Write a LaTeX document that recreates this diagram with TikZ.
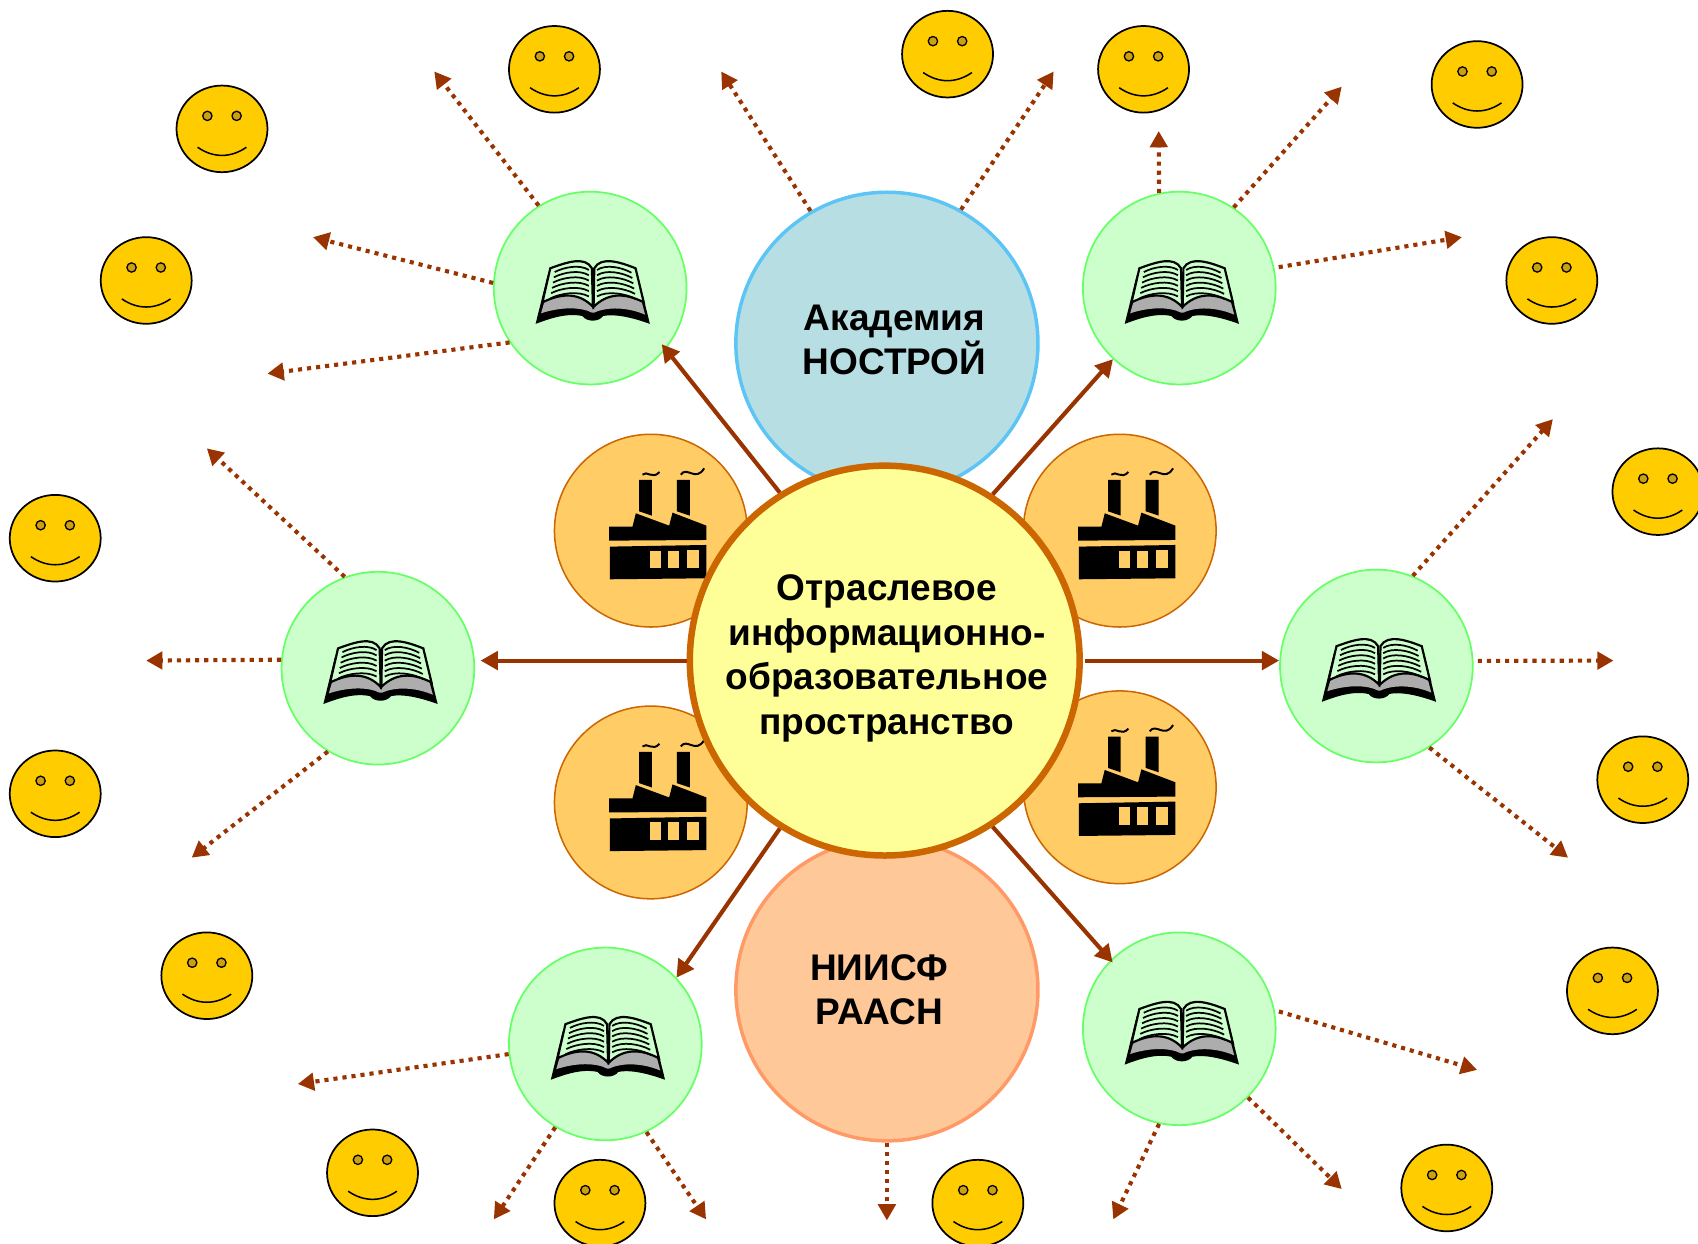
\documentclass[tikz,border=0pt]{standalone}
\usepackage{fontspec}
\setmainfont{Liberation Sans}
\usetikzlibrary{arrows.meta}
\definecolor{brn}{HTML}{993300}
\definecolor{grnfill}{HTML}{CCFFCC}
\definecolor{grnline}{HTML}{66FF66}
\definecolor{orfill}{HTML}{FFCC66}
\definecolor{orline}{HTML}{CC6600}
\definecolor{smfill}{HTML}{FFCC00}
\definecolor{smeye}{HTML}{CCA010}
\definecolor{topfill}{RGB}{183,222,227}
\definecolor{topline}{RGB}{92,197,245}
\definecolor{botfill}{RGB}{255,200,153}
\definecolor{botline}{RGB}{255,153,102}
\definecolor{cenfill}{RGB}{255,255,153}
\tikzset{
  circ/.style={circle,draw,inner sep=0pt,minimum size=#1},
  greenc/.style={circ=89pt,fill=grnfill,draw=grnline,line width=.8pt},
  factc/.style={circ=89pt,fill=orfill,draw=orline,line width=.7pt},
  solidarrow/.style={draw=brn,line width=1.9pt,-{Triangle[length=8pt,width=8.5pt]}},
  dotarrow/.style={draw=brn,line width=1.9pt,dash pattern=on 1.9pt off 2.3pt,-{Triangle[length=7.5pt,width=8pt]}},
  lbl/.style={font=\bfseries\fontsize{17.1pt}{20.6pt}\selectfont,align=center,inner sep=0pt,text=black},
  smiley/.pic={
    \draw[fill=smfill,draw=black,line width=.8pt] (0,0) ellipse [x radius=42,y radius=40];
    \draw[fill=smeye,draw=black,line width=.6pt] (-13.5,-12) circle [radius=4.3];
    \draw[fill=smeye,draw=black,line width=.6pt] (13.5,-12) circle [radius=4.3];
    \draw[black,line width=.7pt] (-22.5,17) .. controls (-8,27) and (8,27) .. (22.5,17);
  },
  book/.pic={
    \begin{scope}[scale=.315,shift={(-330,-320)}]
    \fill[black] (170,425) -- (205,283) -- (470,283) -- (505,425)
      .. controls (450,405) and (400,395) .. (368,402)
      .. controls (355,420) and (320,420) .. (307,402)
      .. controls (260,392) and (210,410) .. (170,425) -- cycle;
    \fill[black!32] (186,394) .. controls (240,376) and (300,374) .. (335,392) -- (342,392)
      .. controls (380,374) and (440,376) .. (491,398) -- (465,300) -- (213,300) -- cycle;
    \draw[black,line width=1pt,fill=grnfill] (213,262) .. controls (260,245) and (315,225) .. (335,262)
      -- (338,375) .. controls (300,335) and (250,332) .. (190,362) -- cycle;
    \draw[black,line width=1pt,fill=grnfill] (342,262) .. controls (362,225) and (420,245) .. (463,262)
      -- (487,362) .. controls (430,332) and (380,335) .. (340,375) -- cycle;
    \foreach \i in {0,...,5}{
      \draw[black,line width=.8pt] ({226-2.6*\i},{273+15.5*\i}) .. controls ({255-2.6*\i},{258+15.5*\i}) and ({300-1*\i},{250+15.5*\i}) .. ({326},{267+15.5*\i});
      \draw[black,line width=.8pt] ({350},{267+15.5*\i}) .. controls ({375+1*\i},{250+15.5*\i}) and ({420+2.6*\i},{258+15.5*\i}) .. ({451+2.6*\i},{275+15.5*\i});
    }
    \end{scope}
  },
  factory/.pic={
    \begin{scope}[scale=.3077,shift={(-330,-330)}]
    \fill[black] (295,178) -- (333,178) -- (333,285) -- (295,272) -- cycle;
    \fill[black] (408,178) -- (447,178) -- (447,285) -- (408,272) -- cycle;
    \fill[black] (205,318) -- (275,318) -- (285,278) -- (385,315) -- (395,276) -- (497,315) -- (497,358) -- (205,360) -- cycle;
    \fill[black] (207,378) -- (497,373) -- (497,473) -- (207,476) -- cycle;
    \fill[orfill] (327,390) rectangle (360,442);
    \fill[orfill] (381,390) rectangle (415,442);
    \fill[orfill] (440,388) rectangle (474,442);
    \draw[black,line width=.9pt] (305,162) .. controls (318,148) and (335,178) .. (356,154);
    \draw[black,line width=.9pt] (420,162) .. controls (438,135) and (465,185) .. (490,143);
    \end{scope}
  }
}
\begin{document}
\begin{tikzpicture}[x=.5pt,y=-.5pt]
\useasboundingbox (0,0) rectangle (1568,1148);
% institutions
\node[circ=139.5pt,fill=topfill,draw=topline,line width=1.6pt] (top) at (819,317) {};
\node[circ=139.5pt,fill=botfill,draw=botline,line width=1.6pt] (bot) at (819,914) {};
% factories
\foreach \n/\p in {f1/{601,490},f2/{1034,490},f3/{601,741},f4/{1034,727}}{
  \node[factc] (\n) at (\p) {};
  \pic at (\p) {factory};
}
% centre
\node[circ=180pt,fill=cenfill,draw=orline,line width=3pt] (c) at (817,610) {};
% green circles
\foreach \n/\p in {g1/{545,266},g2/{1089,266},g3/{349,617},g4/{1271,615},g5/{559,964},g6/{1089,950}}{
  \node[greenc] (\n) at (\p) {};
  \pic at (\p) {book};
}
% labels
\node[lbl] (tc) at (819,608) {Отраслевое\\информационно-\\образовательное\\пространство};
\node[lbl] (tt) at (826,314) {Академия\\НОСТРОЙ};
\node[lbl] (tb) at (812,914) {НИИСФ\\РААСН};
% smileys
\foreach \p in {{205,119},{512,64},{875,50},{1056,64},{1364,78},{135,259},{1433,259},{51,497},{1531,454},{51,733},{1517,720},{191,901},{1489,915},{344,1083},{554,1111},{903,1111},{1336,1097}}{
  \pic at (\p) {smiley};
}
% solid connectors
\draw[solidarrow,shorten >=-3pt] (c.122) -- (g1.321);
\draw[solidarrow] (c.57) -- (g2.227);
\draw[solidarrow,shorten >=2.5pt] (c.180) -- (g3.east |- c.180);
\draw[solidarrow,shorten <=1pt] (c.0) -- (g4.west |- c.0);
\draw[solidarrow] (c.238) -- (g5.43);
\draw[solidarrow,shorten >=-1.5pt] (c.303) -- (g6.135);
% free ends
\coordinate (e1) at (401,66);
\coordinate (e2) at (289,219);
\coordinate (e3) at (247,345);
\coordinate (e4) at (666,66);
\coordinate (e5) at (973,66);
\coordinate (e6) at (1070,121);
\coordinate (e7) at (1239,80);
\coordinate (e8) at (1350,219);
\coordinate (e9) at (191,414);
\coordinate (e10) at (135,610);
\coordinate (e11) at (177,792);
\coordinate (e12) at (1434,387);
\coordinate (e13) at (1490,610);
\coordinate (e14) at (1448,792);
\coordinate (e15) at (275,1001);
\coordinate (e16) at (456,1126);
\coordinate (e17) at (652,1126);
\coordinate (e18) at (1364,988);
\coordinate (e19) at (1239,1098);
\coordinate (e20) at (1028,1126);
\coordinate (e21) at (819,1127);
% dotted connectors
\draw[dotarrow] (g1.122) -- (e1);
\draw[dotarrow] (g1.177) -- (e2);
\draw[dotarrow] (g1.214) -- (e3);
\draw[dotarrow] (top.120) -- (e4);
\draw[dotarrow] (top.61) -- (e5);
\draw[dotarrow] (g2.102) -- (e6);
\draw[dotarrow] (g2.56) -- (e7);
\draw[dotarrow,shorten <=2pt] (g2.12) -- (e8);
\draw[dotarrow] (g3.110) -- (e9);
\draw[dotarrow] (g3.175) -- (e10);
\draw[dotarrow] (g3.239) -- (e11);
\draw[dotarrow] (g4.68) -- (e12);
\draw[dotarrow,shorten <=2pt] (g4.3) -- (e13);
\draw[dotarrow] (g4.303) -- (e14);
\draw[dotarrow] (g5.186) -- (e15);
\draw[dotarrow] (g5.239) -- (e16);
\draw[dotarrow] (g5.295) -- (e17);
\draw[dotarrow,shorten <=2pt] (g6.11) -- (e18);
\draw[dotarrow] (g6.315) -- (e19);
\draw[dotarrow] (g6.258) -- (e20);
\draw[dotarrow] (bot.270) -- (e21);
\end{tikzpicture}
\end{document}
